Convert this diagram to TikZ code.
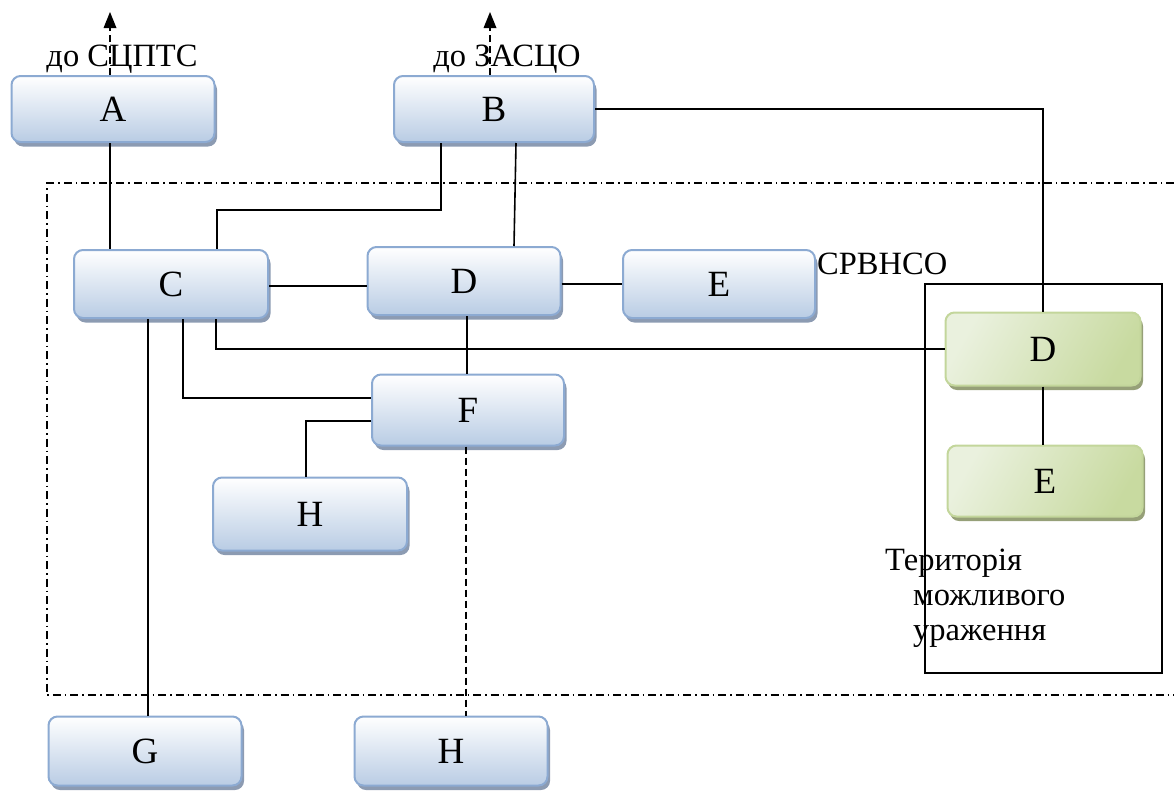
\documentclass[tikz,border=0pt]{standalone}
\usepackage{fontspec}
\setmainfont{Liberation Serif}
\usetikzlibrary{shadows}
\definecolor{bluebd}{RGB}{140,170,210}
\definecolor{bluebot}{RGB}{185,204,228}
\definecolor{blueshd}{RGB}{140,155,178}
\definecolor{greenbd}{RGB}{195,214,155}
\definecolor{greenlt}{RGB}{234,241,222}
\definecolor{greendk}{RGB}{200,218,160}
\definecolor{greenshd}{RGB}{150,160,120}
\begin{document}
\begin{tikzpicture}[x=1pt,y=-1pt,
  boxbase/.style={rounded corners=9pt, line width=2pt,
    font=\fontsize{37}{42}\selectfont, inner sep=0pt},
  bluebox/.style={boxbase, draw=bluebd, top color=white, bottom color=bluebot,
    drop shadow={shadow xshift=2.5pt, shadow yshift=-4.5pt, fill=blueshd, opacity=1}},
  greenbox/.style={boxbase, draw=greenbd, left color=greenlt, right color=greendk,
    shading angle=60,
    drop shadow={shadow xshift=2.5pt, shadow yshift=-4.5pt, fill=greenshd, opacity=1}},
  link/.style={line width=1.6pt, black},
  dlink/.style={line width=1.6pt, black, dash pattern=on 7pt off 4pt},
  lbl/.style={font=\fontsize{32.5}{36}\selectfont, inner sep=0pt},
  frame/.style={line width=1.6pt, dash pattern=on 8pt off 4pt on 1.5pt off 4pt}
]
\useasboundingbox (0,0) rectangle (1174,798);

% dash-dot zone frame
\draw[frame] (1174,183) -- (47,183) -- (47,695) -- (1174,695);
% territory rectangle
\draw[line width=1.6pt] (925,284) rectangle (1162,673);

% boxes
\node[bluebox, minimum width=203pt, minimum height=66pt] (A) at (113,109) {A};
\node[bluebox, minimum width=200pt, minimum height=66pt] (B) at (494,109) {B};
\node[bluebox, minimum width=194pt, minimum height=68pt] (C) at (171,284) {C};
\node[bluebox, minimum width=193pt, minimum height=68pt] (D) at (464,281) {D};
\node[bluebox, minimum width=192pt, minimum height=68pt] (E) at (719,284) {E};
\node[bluebox, minimum width=192pt, minimum height=71pt] (F) at (468,410) {F};
\node[bluebox, minimum width=194pt, minimum height=73pt] (H1) at (310,514) {H};
\node[bluebox, minimum width=193pt, minimum height=69pt] (G) at (145,751) {G};
\node[bluebox, minimum width=193pt, minimum height=69pt] (H2) at (451,751) {H};
\node[greenbox, minimum width=195pt, minimum height=73pt] (Dg) at (1043,349) {D};
\node[greenbox, minimum width=195pt, minimum height=71pt] (Eg) at (1045,481) {E};

% labels
\coordinate (outA) at (110,12);
\coordinate (outB) at (490,12);
\node[lbl, anchor=base] (lA) at (122,66) {до СЦПТС};
\node[lbl, anchor=base] (lB) at (507,66) {до ЗАСЦО};
\node[lbl, anchor=base west] (lS) at (817,274) {СРВНСО};
\node[lbl, anchor=base west] (t1) at (885,570) {Територія};
\node[lbl, anchor=base west] (t2) at (913,605) {можливого};
\node[lbl, anchor=base west] (t3) at (913,640) {ураження};

% outgoing arrows (dashed shaft + filled head)
\draw[dlink] ([xshift=-3pt]A.north) -- ([yshift=-14pt]outA);
\fill (outA) -- ++(-6.5,16) -- ++(13,0) -- cycle;
\draw[dlink] ([xshift=-4pt]B.north) -- ([yshift=-14pt]outB);
\fill (outB) -- ++(-6.5,16) -- ++(13,0) -- cycle;

% connectors
\draw[link] ([xshift=-3pt]A.south) -- ([xshift=-61pt]C.north);
\draw[link] ([xshift=-53pt]B.south) -- ++(0,67) -| ([xshift=46pt]C.north);
\draw[link] ([xshift=22pt]B.south) -- ([xshift=50pt]D.north);
\draw[link] (B.east) -| (Dg.north);
\draw[link] ([yshift=-2pt]C.east) -- ([yshift=-2pt]C.east -| D.west);
\draw[link] ([yshift=-3pt]D.east) -- ([yshift=-3pt]D.east -| E.west);
\draw[link] ([xshift=3pt]D.south) -- ([xshift=3pt]D.south |- F.north);
\draw[link] ([xshift=45pt]C.south) |- (Dg.west);
\draw[link] ([xshift=12pt]C.south) |- ([yshift=12pt]F.west);
\draw[link] ([yshift=-11pt]F.west) -| ([xshift=-4pt]H1.north);
\draw[link] ([xshift=-23pt]C.south) -- ([xshift=-23pt]C.south |- G.north);
\draw[dlink] ([xshift=-2pt]F.south) -- ([xshift=-2pt]F.south |- H2.north);
\draw[link] (Dg.south) -- (Dg.south |- Eg.north);
\end{tikzpicture}
\end{document}
